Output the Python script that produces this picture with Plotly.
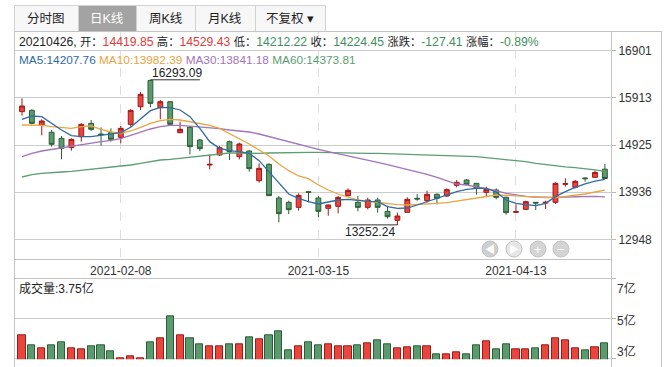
import plotly.graph_objects as go

# ---------------- data ----------------
dates = [
    "2021-01-25", "2021-01-26", "2021-01-27", "2021-01-28", "2021-01-29",
    "2021-02-01", "2021-02-02", "2021-02-03", "2021-02-04", "2021-02-05",
    "2021-02-08", "2021-02-09", "2021-02-10", "2021-02-18", "2021-02-19",
    "2021-02-22", "2021-02-23", "2021-02-24", "2021-02-25", "2021-02-26",
    "2021-03-01", "2021-03-02", "2021-03-03", "2021-03-04", "2021-03-05",
    "2021-03-08", "2021-03-09", "2021-03-10", "2021-03-11", "2021-03-12",
    "2021-03-15", "2021-03-16", "2021-03-17", "2021-03-18", "2021-03-19",
    "2021-03-22", "2021-03-23", "2021-03-24", "2021-03-25", "2021-03-26",
    "2021-03-29", "2021-03-30", "2021-03-31", "2021-04-01", "2021-04-02",
    "2021-04-06", "2021-04-07", "2021-04-08", "2021-04-09", "2021-04-12",
    "2021-04-13", "2021-04-14", "2021-04-15", "2021-04-16", "2021-04-19",
    "2021-04-20", "2021-04-21", "2021-04-22", "2021-04-23", "2021-04-26",
]

opens = [
    15625.2, 15653.2, 15338.8, 15192.0, 15066.3, 14870.6, 15101.2, 15380.7, 15157.1, 15185.0,
    15087.2, 15359.7, 15730.0, 16280.0, 15709.1, 15834.8, 15185.0, 15296.8, 15031.3, 14507.3,
    14716.9, 14996.4, 14682.0, 14800.8, 14178.9, 14521.3, 13815.6, 13724.8, 13620.0, 13948.3,
    13815.6, 13599.0, 13640.9, 13864.5, 13724.8, 13620.0, 13773.7, 13536.1, 13347.5, 13515.2,
    13808.6, 13759.7, 13892.4, 13857.5, 14081.1, 14192.9, 14123.0, 13934.4, 13983.3, 13829.6,
    13515.2, 13578.0, 13724.8, 13710.8, 13724.8, 14102.1, 14039.2, 14234.8, 14248.8, 14419.85,
]
highs = [
    15904.7, 15674.1, 15464.5, 15240.9, 15115.2, 15066.3, 15380.7, 15450.5, 15296.8, 15275.9,
    15324.8, 15674.1, 16037.5, 16293.09, 15869.8, 15848.8, 15415.6, 15324.8, 15052.3, 14730.9,
    14905.6, 15017.4, 14975.4, 14821.7, 14542.2, 14542.2, 13857.5, 13759.7, 13913.4, 13955.3,
    13857.5, 13675.9, 13857.5, 14018.2, 13857.5, 13822.6, 13822.6, 13654.9, 13508.2, 13829.6,
    13899.4, 13969.3, 13913.4, 14018.2, 14192.9, 14213.9, 14130.0, 14053.1, 14018.2, 13843.5,
    13682.8, 13759.7, 13731.7, 13759.7, 14144.0, 14227.8, 14192.9, 14248.8, 14388.5, 14529.43,
]
lows = [
    15541.4, 15359.7, 15129.1, 14891.6, 14626.1, 14807.7, 14996.4, 15220.0, 14905.6, 14996.4,
    14961.5, 15310.8, 15660.2, 15716.1, 15464.5, 15345.7, 15171.1, 14730.9, 14800.8, 14416.5,
    14696.0, 14612.1, 14626.1, 14367.6, 14137.0, 13857.5, 13305.5, 13480.2, 13550.1, 13724.8,
    13417.3, 13445.3, 13494.2, 13850.5, 13536.1, 13578.0, 13508.2, 13382.4, 13252.24, 13508.2,
    13759.7, 13717.8, 13682.8, 13836.6, 14039.2, 14088.1, 13885.5, 13843.5, 13787.6, 13466.2,
    13508.2, 13564.1, 13564.1, 13585.0, 13689.8, 14053.1, 14018.2, 14158.0, 14234.8, 14212.22,
]
closes = [
    15744.0, 15380.7, 15429.6, 14940.5, 14856.7, 15045.3, 15359.7, 15254.9, 15143.1, 15045.3,
    15275.9, 15653.2, 15988.5, 15799.9, 15834.8, 15359.7, 15254.9, 14891.6, 14849.7, 14521.3,
    14870.6, 14786.8, 14947.5, 14430.4, 14437.4, 13864.5, 13487.2, 13571.0, 13871.5, 13934.4,
    13536.1, 13668.9, 13829.6, 13976.3, 13620.0, 13773.7, 13620.0, 13424.3, 13438.3, 13787.6,
    13794.6, 13892.4, 13808.6, 13990.3, 14144.0, 14102.1, 14025.2, 13997.3, 13829.6, 13508.2,
    13529.1, 13738.7, 13710.8, 13724.8, 14123.0, 14116.0, 14164.9, 14220.8, 14351.86, 14224.45,
]

ma5 = [
    15464.5, 15534.4, 15520.4, 15380.7, 15240.9, 15122.2, 15101.2, 15101.2, 15129.1, 15157.1,
    15185.0, 15296.8, 15464.5, 15646.2, 15716.1, 15709.1, 15660.2, 15520.4, 15275.9, 14996.4,
    14856.7, 14807.7, 14786.8, 14751.8, 14598.1, 14367.6, 14123.0, 13899.4, 13808.6, 13738.7,
    13689.8, 13724.8, 13773.7, 13787.6, 13759.7, 13745.7, 13738.7, 13633.9, 13599.0, 13606.0,
    13668.9, 13738.7, 13822.6, 13885.5, 13948.3, 13997.3, 14018.2, 14018.2, 13941.4, 13773.7,
    13703.8, 13675.9, 13654.9, 13703.8, 13843.5, 13948.3, 14039.2, 14110.0, 14170.0, 14207.76,
]
ma10 = [
    15345.7, 15345.7, 15338.8, 15310.8, 15289.8, 15275.9, 15310.8, 15324.8, 15254.9, 15199.0,
    15171.1, 15220.0, 15296.8, 15380.7, 15436.6, 15464.5, 15450.5, 15408.6, 15373.7, 15338.8,
    15275.9, 15171.1, 15066.3, 14947.5, 14821.7, 14696.0, 14528.3, 14388.5, 14276.7, 14220.8,
    14088.1, 13983.3, 13899.4, 13829.6, 13773.7, 13745.7, 13717.8, 13696.8, 13675.9, 13668.9,
    13675.9, 13689.8, 13703.8, 13717.8, 13752.7, 13773.7, 13808.6, 13857.5, 13878.5, 13871.5,
    13857.5, 13836.6, 13829.6, 13822.6, 13822.6, 13843.5, 13864.5, 13899.4, 13941.4, 13982.39,
]
ma30 = [
    14682.0, 14751.8, 14800.8, 14835.7, 14863.6, 14891.6, 14933.5, 14961.5, 14996.4, 15024.3,
    15059.3, 15129.1, 15199.0, 15261.9, 15310.8, 15338.8, 15338.8, 15324.8, 15303.8, 15289.8,
    15268.9, 15240.9, 15220.0, 15199.0, 15157.1, 15101.2, 15052.3, 14996.4, 14947.5, 14891.6,
    14835.7, 14786.8, 14744.9, 14702.9, 14654.0, 14612.1, 14563.2, 14514.3, 14465.4, 14416.5,
    14367.6, 14311.7, 14248.8, 14171.9, 14109.0, 14088.1, 14053.1, 14011.2, 13969.3, 13913.4,
    13878.5, 13850.5, 13836.6, 13829.6, 13829.6, 13836.6, 13843.5, 13850.5, 13848.0, 13841.18,
]
ma60 = [
    14255.8, 14304.7, 14332.6, 14353.6, 14360.6, 14374.6, 14395.5, 14416.5, 14444.4, 14465.4,
    14486.3, 14507.3, 14542.2, 14584.2, 14612.1, 14626.1, 14647.0, 14668.0, 14702.9, 14723.9,
    14744.9, 14758.8, 14758.8, 14751.8, 14751.8, 14758.8, 14765.8, 14772.8, 14772.8, 14772.8,
    14772.8, 14765.8, 14765.8, 14758.8, 14758.8, 14751.8, 14751.8, 14744.9, 14737.9, 14737.9,
    14730.9, 14723.9, 14716.9, 14709.9, 14709.9, 14696.0, 14682.0, 14661.0, 14640.1, 14626.1,
    14605.1, 14577.2, 14542.2, 14514.3, 14493.3, 14470.0, 14452.0, 14432.0, 14405.0, 14373.81,
]

volume_yi = [
    4.17, 3.65, 3.50, 3.65, 3.80, 3.50, 3.45, 3.60, 3.65, 3.35,
    3.02, 3.10, 2.98, 3.80, 4.00, 5.10, 4.15, 4.00, 3.70, 3.60,
    3.60, 3.70, 3.70, 4.05, 3.95, 4.15, 4.35, 3.40, 3.60, 3.80,
    3.65, 3.70, 3.60, 3.60, 3.65, 3.75, 3.90, 3.70, 3.50, 3.55,
    3.60, 3.60, 3.20, 3.20, 3.30, 3.20, 3.65, 3.85, 3.45, 3.70,
    3.45, 3.45, 3.50, 3.65, 4.00, 3.90, 3.50, 3.40, 3.55, 3.75,
]

price_ticks = [12948, 13936, 14925, 15913, 16901]
vol_ticks = [3, 5, 7]
vol_tick_text = ["3亿", "5亿", "7亿"]
date_ticks = ["2021-02-08", "2021-03-15", "2021-04-13"]
tab_labels = ["分时图", "日K线", "周K线", "月K线", "不复权 ▾"]

info_date = "20210426"
info_change = "-127.41"
info_pct = "-0.89%"
ma_labels = ["MA5", "MA10", "MA30", "MA60"]
vol_label = "成交量:3.75亿"

# ---------------- styles ----------------
W, H = 672, 367
RED_FILL, RED_LINE = "#e8453c", "#a01818"
GRN_FILL, GRN_LINE = "#5a9a6e", "#2b5e34"
TXT_RED, TXT_GRN = "#e23b3b", "#3f8f5e"
MA_COLORS = ["#2f6aa3", "#eaa440", "#a274b8", "#5c9e72"]
GRID = "#cbcbcb"
FONT = "Liberation Sans, Noto Sans CJK SC, sans-serif"


def px(x):
    return x / W


def py(y):
    return 1 - y / H


fig = go.Figure()

fig.add_trace(go.Candlestick(
    x=dates, open=opens, high=highs, low=lows, close=closes,
    increasing=dict(line=dict(color=RED_LINE, width=1), fillcolor=RED_FILL),
    decreasing=dict(line=dict(color=GRN_LINE, width=1), fillcolor=GRN_FILL),
    whiskerwidth=0, xaxis="x", yaxis="y", showlegend=False, hoverinfo="skip",
))

for vals, col in zip([ma60, ma30, ma10, ma5], MA_COLORS[::-1]):
    fig.add_trace(go.Scatter(x=dates, y=vals, mode="lines",
                             line=dict(color=col, width=1.3),
                             xaxis="x", yaxis="y", showlegend=False, hoverinfo="skip"))

up = [c >= o for o, c in zip(opens, closes)]
fig.add_trace(go.Bar(
    x=dates, y=volume_yi, width=0.72,
    marker=dict(color=[RED_FILL if u else GRN_FILL for u in up],
                line=dict(color=[RED_LINE if u else GRN_LINE for u in up], width=1)),
    xaxis="x2", yaxis="y2", showlegend=False, hoverinfo="skip",
))

x_dom = [px(14), px(611)]
x_range = [-0.81, len(dates) - 1 + 0.62]

fig.update_layout(
    width=W, height=H, margin=dict(l=0, r=0, t=0, b=0),
    paper_bgcolor="white", plot_bgcolor="white",
    font=dict(family=FONT, size=12, color="#333"),
    bargap=0, hovermode=False,
    xaxis=dict(domain=x_dom, type="category", categoryorder="array", categoryarray=dates,
               range=x_range, anchor="y", rangeslider=dict(visible=False),
               tickvals=date_ticks, ticktext=date_ticks, ticks="", showgrid=True,
               ticklabelstandoff=3,
               gridcolor="#dedede", griddash="dash", gridwidth=1, zeroline=False,
               showline=False, tickfont=dict(size=12, color="#333")),
    yaxis=dict(domain=[py(259), py(32)], range=[12537, 17295], anchor="x", side="right",
               tickvals=price_ticks, ticktext=[str(v) for v in price_ticks],
               ticks="outside", ticklen=4, tickcolor="#b8b8b8",
               showgrid=True, gridcolor=GRID, gridwidth=1, zeroline=False, showline=False,
               tickfont=dict(size=12, color="#333")),
    xaxis2=dict(domain=x_dom, type="category", categoryorder="array", categoryarray=dates,
                range=x_range, anchor="y2", showticklabels=False, showgrid=False,
                zeroline=False, showline=False, ticks=""),
    yaxis2=dict(domain=[py(359.3), py(278.3)], range=[2.95, 7.02], anchor="x2", side="right",
                tickvals=vol_ticks, showticklabels=False, ticks="outside", ticklen=4,
                tickcolor="#b8b8b8", showgrid=True, gridcolor=GRID, zeroline=False,
                showline=False),
)

shapes = []
annotations = []
border = "#c4c4c4"


def pline(x0, y0, x1, y1, color=border, width=1):
    shapes.append(dict(type="line", xref="paper", yref="paper",
                       x0=px(x0), y0=py(y0), x1=px(x1), y1=py(y1),
                       line=dict(color=color, width=width), layer="above"))


# frame
pline(14, 31.5, 661, 31.5)
pline(14.5, 31, 14.5, 367)
pline(611.5, 31, 611.5, 367)
pline(661.5, 31, 661.5, 367)
pline(14, 259.5, 611, 259.5)
pline(14, 278.5, 611, 278.5)

# volume axis labels (drawn inside the panel like the original)
vol_label_shift = {3: 7, 5: -2, 7: -10}
for v, t in zip(vol_ticks, vol_tick_text):
    annotations.append(dict(xref="paper", yref="y2", x=px(615), y=v, text=t,
                            showarrow=False, xanchor="left", yanchor="middle",
                            yshift=vol_label_shift[v], font=dict(size=12, color="#333")))

# tabs
tab_edges = [14, 78, 136, 195, 255, 325]
for i, lab in enumerate(tab_labels):
    sel = (i == 1)
    shapes.append(dict(type="rect", xref="paper", yref="paper",
                       x0=px(tab_edges[i] + 0.5), x1=px(tab_edges[i + 1] + 0.5),
                       y0=py(31.5), y1=py(5.5),
                       fillcolor="#a3a3a3" if sel else "#f7f7f7",
                       line=dict(color="#d2d2d2", width=1), layer="below"))
    annotations.append(dict(xref="paper", yref="paper",
                            x=px((tab_edges[i] + tab_edges[i + 1]) / 2), y=py(18.5),
                            text=lab, showarrow=False, xanchor="center", yanchor="middle",
                            font=dict(size=12.5, color="white" if sel else "#222")))


def span(t, c, size=None):
    st = f"color:{c}"
    if size:
        st += f";font-size:{size}px"
    return f'<span style="{st}">{t}</span>'


CJK = 11.3
k = len(dates) - 1
info = (span(info_date + ", ", "#222") + span("开：", "#222", CJK) + span(f"{opens[k]:.2f}", TXT_RED) + " "
        + span("高：", "#222", CJK) + span(f"{highs[k]:.2f}", TXT_RED) + " "
        + span("低：", "#222", CJK) + span(f"{lows[k]:.2f}", TXT_GRN) + " "
        + span("收：", "#222", CJK) + span(f"{closes[k]:.2f}", TXT_GRN) + " "
        + span("涨跌：", "#222", CJK) + span(info_change, TXT_GRN) + " "
        + span("涨幅：", "#222", CJK) + span(info_pct, TXT_GRN))
annotations.append(dict(xref="paper", yref="paper", x=px(17), y=py(42), text=info,
                        showarrow=False, xanchor="left", yanchor="middle",
                        font=dict(size=12.2, color="#222")))

ma_last = [ma5[k], ma10[k], ma30[k], ma60[k]]
ma_txt = " ".join(span(f"{n}:{v:.2f}", c) for n, c, v in zip(ma_labels, MA_COLORS, ma_last))
annotations.append(dict(xref="paper", yref="paper", x=px(17), y=py(59.5), text=ma_txt,
                        showarrow=False, xanchor="left", yanchor="middle",
                        font=dict(size=11.8)))

annotations.append(dict(xref="paper", yref="paper", x=px(17), y=py(288.5), text=vol_label,
                        showarrow=False, xanchor="left", yanchor="middle",
                        font=dict(size=12, color="#222")))

# max / min markers
i_max = highs.index(max(highs))
i_min = lows.index(min(lows))
shapes.append(dict(type="line", xref="x", yref="y", x0=i_max, x1=i_max + 5,
                   y0=highs[i_max], y1=highs[i_max], line=dict(color="#333", width=1)))
annotations.append(dict(xref="x", yref="y", x=i_max, y=highs[i_max], text=f"{highs[i_max]:.2f}",
                        showarrow=False, xanchor="left", yanchor="bottom", yshift=-2,
                        font=dict(size=12, color="#222")))
shapes.append(dict(type="line", xref="x", yref="y", x0=i_min - 5, x1=i_min,
                   y0=lows[i_min], y1=lows[i_min], line=dict(color="#333", width=1)))
annotations.append(dict(xref="x", yref="y", x=i_min, y=lows[i_min], text=f"{lows[i_min]:.2f}",
                        showarrow=False, xanchor="right", yanchor="top", yshift=2,
                        font=dict(size=12, color="#222")))

# navigation buttons
nav = [(490, "◀", "#cfcfcf"), (514, "▶", "#e6e6e6"), (538, "+", "#d4d4d4"), (561, "−", "#d4d4d4")]
for cx, sym, fc in nav:
    shapes.append(dict(type="circle", xref="paper", yref="paper",
                       x0=px(cx - 8), x1=px(cx + 8), y0=py(257), y1=py(241),
                       fillcolor=fc, line=dict(color="#c2c2c2", width=1), layer="above"))
    annotations.append(dict(xref="paper", yref="paper", x=px(cx), y=py(249), text=sym,
                            showarrow=False, xanchor="center", yanchor="middle",
                            font=dict(size=10 if sym in "◀▶" else 13, color="white")))

fig.update_layout(shapes=shapes, annotations=annotations)
fig.write_html("out.html", config={"displayModeBar": False},
               post_script="document.body.style.margin='0';document.body.style.overflow='hidden';")
